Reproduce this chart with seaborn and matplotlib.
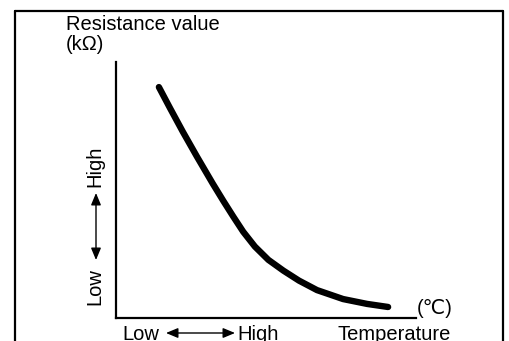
import matplotlib
matplotlib.use("Agg")
import matplotlib.pyplot as plt
from matplotlib.lines import Line2D
from matplotlib.patches import FancyArrowPatch
import seaborn as sns
import pandas as pd

# NTC thermistor characteristic: resistance falls as temperature rises
temperature = [14.3, 18.0, 22.3, 27.0, 32.2, 35.8, 39.1, 42.4, 46.3, 50.8,
               55.8, 61.0, 67.0, 75.7, 83.7, 90.7]
resistance = [90.2, 82.0, 72.7, 63.0, 52.6, 45.7, 39.6, 33.7, 27.9, 22.7,
              18.5, 14.6, 10.9, 7.4, 5.5, 4.3]

y_title = "Resistance value"
y_unit = "(kΩ)"
x_title = "Temperature"
x_unit = "(℃)"
low_label = "Low"
high_label = "High"

sns.set_theme(style="white")
plt.rcParams["font.family"] = ["Liberation Sans", "DejaVu Sans"]
plt.rcParams["text.color"] = "black"

W, H = 509, 341
fig = plt.figure(figsize=(W / 100, H / 100), dpi=100)
fig.patch.set_facecolor("white")


def fx(px):
    return px / W


def fy(py):
    return 1 - py / H


# plot area (pixel box 116..416 x 62..318)
ax = fig.add_axes([fx(116), fy(318), fx(416) - fx(116), fy(62) - fy(318)])
df = pd.DataFrame({"temperature": temperature, "resistance": resistance})
sns.lineplot(data=df, x="temperature", y="resistance", ax=ax, color="black",
             linewidth=4.6, solid_capstyle="round", solid_joinstyle="round")
ax.set_xlim(0, 100)
ax.set_ylim(0, 100)
ax.set_xticks([])
ax.set_yticks([])
ax.set_xlabel("")
ax.set_ylabel("")
ax.set_facecolor("none")
for side in ("top", "right"):
    ax.spines[side].set_visible(False)
for side in ("left", "bottom"):
    ax.spines[side].set_visible(True)
    ax.spines[side].set_color("black")
    ax.spines[side].set_linewidth(1.6)

# frame around the figure (open at the bottom)
frame_kw = dict(color="black", linewidth=1.6, transform=fig.transFigure)
fig.add_artist(Line2D([fx(15), fx(15)], [fy(11), fy(345)], **frame_kw))
fig.add_artist(Line2D([fx(15), fx(503)], [fy(11), fy(11)], **frame_kw))
fig.add_artist(Line2D([fx(503), fx(503)], [fy(11), fy(345)], **frame_kw))

fs = 14.5
txt = dict(fontsize=fs, color="black")
fig.text(fx(66), fy(25), y_title, ha="left", va="center", **txt)
fig.text(fx(66), fy(45), y_unit, ha="left", va="center", **txt)
fig.text(fx(417), fy(308), x_unit, ha="left", va="center", **txt)

# vertical Low <-> High scale
fig.text(fx(95), fy(166), high_label, rotation=90, ha="center", va="center", **txt)
fig.text(fx(95), fy(287), low_label, rotation=90, ha="center", va="center", **txt)
arrow_kw = dict(arrowstyle="<|-|>,head_length=0.6,head_width=0.25", color="black",
                linewidth=1.0, shrinkA=0, shrinkB=0, mutation_scale=12)
fig.add_artist(FancyArrowPatch(
    (fx(96), fy(260)), (fx(96), fy(193)), transform=fig.transFigure, **arrow_kw))

# horizontal Low <-> High scale
base = fy(340)
fig.text(fx(122), base, low_label, ha="left", va="baseline", **txt)
fig.text(fx(237), base, high_label, ha="left", va="baseline", **txt)
fig.text(fx(337), base, x_title, ha="left", va="baseline", **txt)
fig.add_artist(FancyArrowPatch(
    (fx(166), fy(333)), (fx(235), fy(333)), transform=fig.transFigure, **arrow_kw))

fig.savefig("out.png", dpi=100)
